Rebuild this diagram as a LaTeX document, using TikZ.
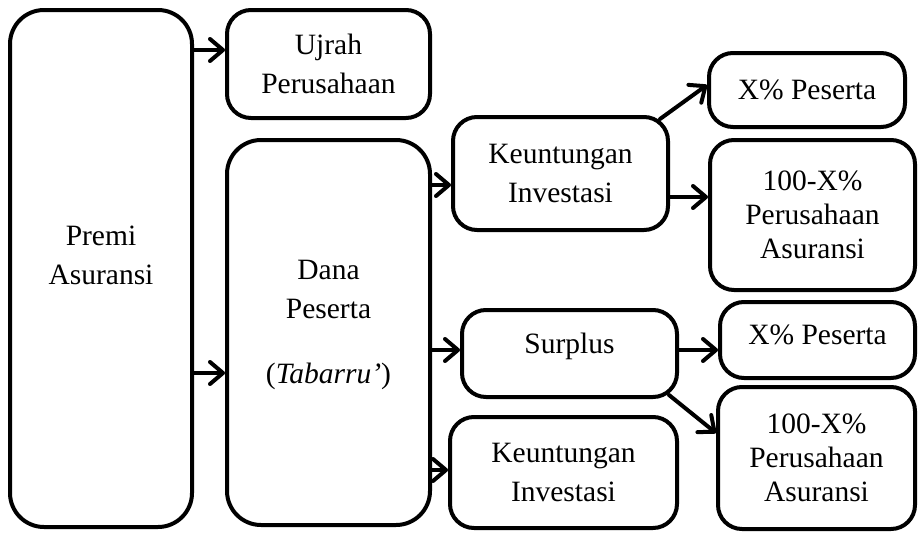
\documentclass[tikz,border=0pt]{standalone}
\usepackage{fontspec}
\setmainfont{Liberation Serif}
\usetikzlibrary{arrows.meta,calc}
\begin{document}
\begin{tikzpicture}[x=1pt,y=-1pt,
  box/.style={draw=black, line width=4pt, rounded corners=24pt, fill=white,
    align=center, inner sep=0pt, font=\fontsize{29.5}{39}\selectfont},
  bigbox/.style={box, rounded corners=34pt},
  txt/.style={align=center, font=\fontsize{29.5}{39}\selectfont, inner sep=0pt},
  arr/.style={line width=4pt, line cap=round, -{Straight Barb[length=13pt,width=22pt,line cap=round,line join=round]}}
]
\useasboundingbox (0,0) rectangle (918,533);
\fill[white] (0,0) rectangle (918,533);

% boxes
\node[bigbox, minimum width=182pt, minimum height=517pt,
  label={[txt, yshift=13pt]center:{Premi\\Asuransi}}] (premi) at (101,268.5) {};
\node[box, minimum width=203pt, minimum height=108pt] (ujrah) at (328.5,64) {Ujrah\\Perusahaan};
\node[bigbox, minimum width=203pt, minimum height=385pt,
  label={[txt, yshift=8pt]center:{Dana\\Peserta\\[26pt](\textit{Tabarru’})}}] (dana) at (328.5,332.5) {};
\node[box, minimum width=215pt, minimum height=113pt] (keu1) at (560.5,173.5) {Keuntungan\\Investasi};
\node[box, minimum width=196pt, minimum height=74pt] (xp1) at (807,90) {X\% Peserta};
\node[box, minimum width=205pt, minimum height=150pt] (pa1) at (812.5,215) {100-X\%\\[-5pt]Perusahaan\\[-5pt]Asuransi};
\node[box, minimum width=215pt, minimum height=87pt,
  label={[txt, yshift=7pt]center:Surplus}] (surplus) at (569.5,353.5) {};
\node[box, minimum width=195pt, minimum height=76pt,
  label={[txt, yshift=5pt]center:X\% Peserta}] (xp2) at (817.5,340) {};
\node[box, minimum width=197pt, minimum height=142pt] (pa2) at (816.5,458) {100-X\%\\[-5pt]Perusahaan\\[-5pt]Asuransi};
\node[box, minimum width=227pt, minimum height=111pt] (keu2) at (563.5,472.5) {Keuntungan\\Investasi};

% connectors
\draw[arr] (premi.east |- 0,50) -- (ujrah.west |- 0,50);
\draw[arr] (premi.east |- 0,373) -- (dana.west |- 0,373);
\draw[arr] (dana.east |- 0,185) -- (keu1.west |- 0,185);
\draw[arr] (dana.east |- 0,350) -- (surplus.west |- 0,350);
\draw[arr] (dana.east |- 0,470) -- (keu2.west |- 0,470);
\draw[arr] ([xshift=-10pt,yshift=-4pt]keu1.north east) -- ([yshift=5pt]xp1.west);
\draw[arr] (keu1.east |- 0,197) -- (pa1.west |- 0,197);
\draw[arr] (surplus.east |- 0,350) -- (xp2.west |- 0,350);
\draw[arr] ([xshift=-10pt,yshift=4pt]surplus.south east) -- ([yshift=25pt]pa2.west);
\end{tikzpicture}
\end{document}
